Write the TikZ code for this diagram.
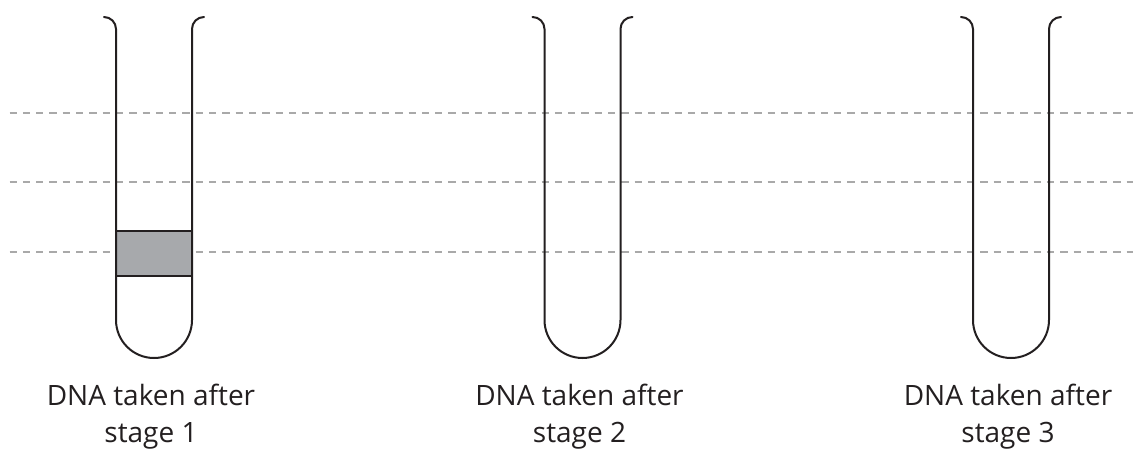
\documentclass[tikz,border=0pt]{standalone}
\usepackage{fontspec}
\setmainfont{Open Sans}
\definecolor{ink}{HTML}{231F20}
\definecolor{guide}{HTML}{A9A9A9}
\definecolor{bandfill}{HTML}{A7A9AC}
\tikzset{
  tubewall/.style={draw=ink, line width=2pt, line cap=round},
  guideline/.style={draw=guide, line width=1.9pt, dash pattern=on 7.3pt off 6pt},
  band/.style={fill=bandfill, draw=ink, line width=2pt},
  caption/.style={font=\fontsize{28pt}{34pt}\selectfont, text=ink, anchor=base, inner sep=0pt}
}
\begin{document}
\begin{tikzpicture}[x=1pt,y=-1pt]
  \useasboundingbox (0,0) rectangle (1133,448);
  % horizontal guide lines
  \foreach \yy in {112.7,182.3,252.3}
    \draw[guideline] (9.5,\yy) -- (1133,\yy);
  % DNA band in the first tube
  \draw[band] (116,231) rectangle (192,276);
  % three test tubes: lips, walls and rounded bottoms
  \foreach \cx/\n in {154/1,582.5/2,1011/3}{
    \draw[tubewall]
      (\cx-50,17) arc[start angle=-90, end angle=0, radius=12]
      -- (\cx-38,320) arc[start angle=180, end angle=0, radius=38]
      -- (\cx+38,29) arc[start angle=180, end angle=270, radius=12];
    \node[caption] (cap\n a) at (\cx-3,405.5) {DNA taken after};
    \node[caption] (cap\n b) at (\cx-3,442.5) {stage \n};
  }
\end{tikzpicture}
\end{document}
